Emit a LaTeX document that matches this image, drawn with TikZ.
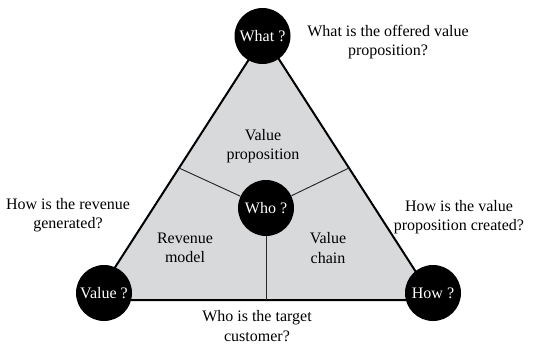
\documentclass[tikz,border=0pt]{standalone}
\usepackage{fontspec}
\setmainfont{LiberationSerif-Regular.ttf}
\usetikzlibrary{calc}
\definecolor{trifill}{RGB}{216,217,219}
\begin{document}
\begin{tikzpicture}[x=0.75pt,y=-0.75pt,
  q/.style={circle,fill=black,text=white,minimum size=42pt,inner sep=0pt,font=\fontsize{12}{14.5}\selectfont},
  lbl/.style={align=center,font=\fontsize{12}{14.5}\selectfont,inner sep=0pt},
  edge/.style={line width=1.5pt},
  inner/.style={line width=0.7pt,draw=black!85}]
\useasboundingbox (0,0) rectangle (543,347);
\coordinate (A) at (264,36);
\coordinate (B) at (94,300);
\coordinate (C) at (434,300);
\coordinate (mAB) at ($(A)!0.5!(B)$);
\coordinate (mAC) at ($(A)!0.5!(C)$);
\fill[trifill] (A) -- (B) -- (C) -- cycle;
\draw[edge] (A) -- (B) -- (C) -- cycle;
\node[q] (who) at (266,208) {Who ?};
\coordinate (mBC) at (who |- B);
\draw[inner] (who) -- (mAB);
\draw[inner] (who) -- (mAC);
\draw[inner] (who) -- (mBC);
\node[q] (what) at (262.5,36) {What ?};
\node[q] (value) at (104,293) {Value ?};
\node[q] (how) at (433,293) {How ?};
\node[lbl] (vp) at (263,146) {Value\\proposition};
\node[lbl] (rm) at (185,248) {Revenue\\model};
\node[lbl] (vc) at (328,248) {Value\\chain};
\node[lbl] (qwhat) at (388,42) {What is the offered value\\proposition?};
\node[lbl] (qval) at (68,215) {How is the revenue\\generated?};
\node[lbl] (qhow) at (459,217) {How is the value\\proposition created?};
\node[lbl] (qwho) at (257,326) {Who is the target\\customer?};
\end{tikzpicture}
\end{document}
